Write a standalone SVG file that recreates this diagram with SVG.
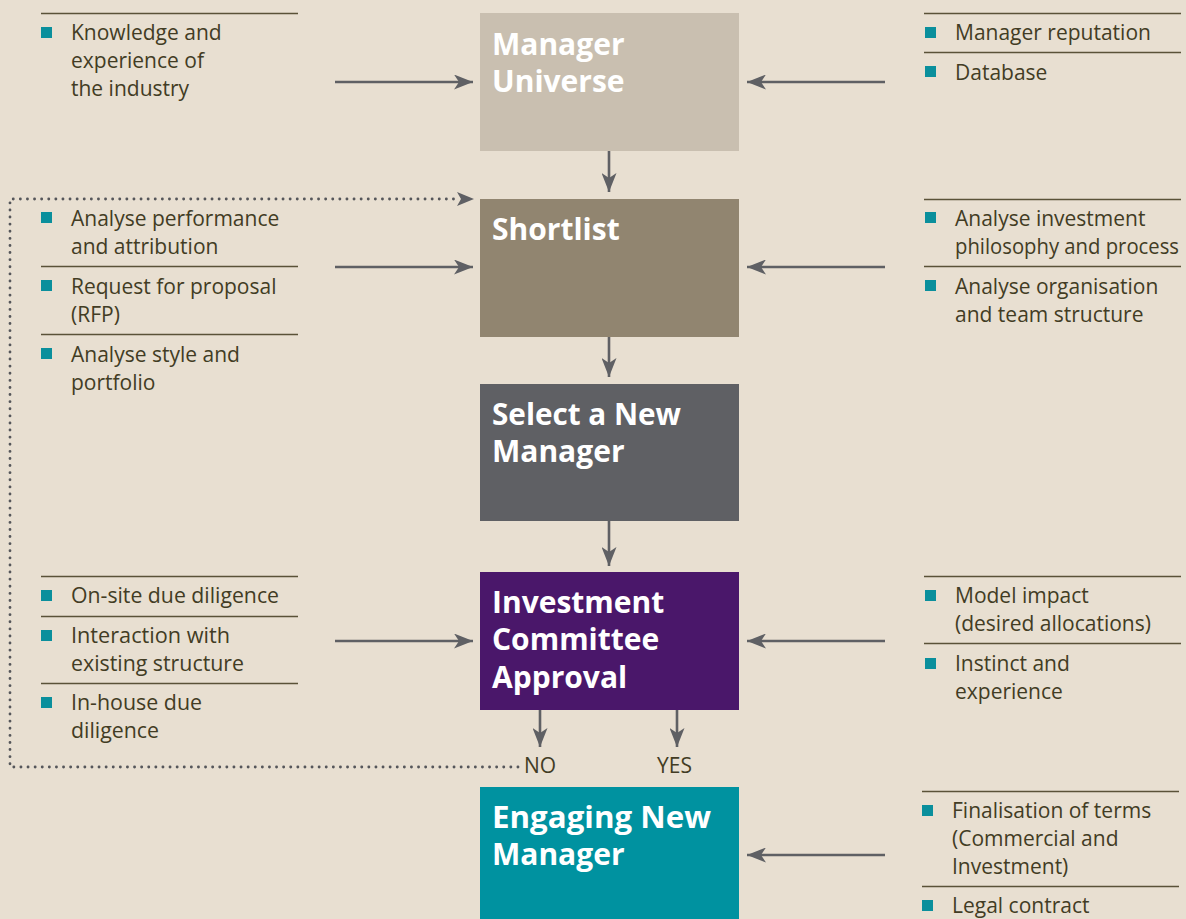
<svg xmlns="http://www.w3.org/2000/svg" width="1186" height="919" viewBox="0 0 1186 919">
<defs>
<marker id="ah" viewBox="0 0 19 15" refX="19" refY="7.5" markerWidth="19" markerHeight="15" markerUnits="userSpaceOnUse" orient="auto">
<path d="M0,0 L19,7.5 L0,15 L5,7.5 Z" fill="#5f6064"/>
</marker>
<style>
.bg{fill:#e8dfd1}
.t{font-family:"Open Sans","Liberation Sans",sans-serif;font-size:21px;fill:#423c24}
.h{font-family:"Open Sans","Liberation Sans",sans-serif;font-size:30px;font-weight:bold;fill:#ffffff}
.sep{stroke:#5a5238;stroke-width:1.3}
.bul{fill:#0a8f9c}
.ar{stroke:#5f6064;stroke-width:2.6;fill:none;marker-end:url(#ah)}
.dot{stroke:#55565a;stroke-width:2.8;fill:none;stroke-dasharray:0.1 7;stroke-linecap:round}
</style>
</defs>
<rect class="bg" x="0" y="0" width="1186" height="919"/>

<g id="connectors">
<line class="ar" x1="335" y1="82" x2="473" y2="82"/>
<line class="ar" x1="885" y1="82" x2="747" y2="82"/>
<line class="ar" x1="609" y1="151" x2="609" y2="192"/>
<line class="ar" x1="335" y1="267" x2="473" y2="267"/>
<line class="ar" x1="885" y1="267" x2="747" y2="267"/>
<line class="ar" x1="609" y1="337" x2="609" y2="377"/>
<line class="ar" x1="609" y1="521" x2="609" y2="566"/>
<line class="ar" x1="335" y1="641" x2="473" y2="641"/>
<line class="ar" x1="885" y1="641" x2="747" y2="641"/>
<line class="ar" x1="540" y1="710" x2="540" y2="747"/>
<line class="ar" x1="677" y1="710" x2="677" y2="747"/>
<line class="ar" x1="885" y1="855" x2="747" y2="855"/>
<path class="dot" d="M518,767 L10,767 L10,199 L458,199"/>
<path d="M457,192 L474,199 L457,206 L461,199 Z" fill="#5f6064"/>
<text class="t" x="524" y="773">NO</text>
<text class="t" x="657" y="773">YES</text>
</g>

<g id="manager-universe">
<rect x="480" y="13" width="259" height="138" fill="#c9bfb0"/>
<text class="h" x="492" y="55">Manager</text>
<text class="h" x="492" y="92">Universe</text>
</g>
<g id="shortlist">
<rect x="480" y="199" width="259" height="138" fill="#918570"/>
<text class="h" x="492" y="240">Shortlist</text>
</g>
<g id="select-new-manager">
<rect x="480" y="384" width="259" height="137" fill="#5f6064"/>
<text class="h" x="492" y="425" textLength="189" lengthAdjust="spacingAndGlyphs">Select a New</text>
<text class="h" x="492" y="462">Manager</text>
</g>
<g id="investment-committee">
<rect x="480" y="572" width="259" height="138" fill="#4a176a"/>
<text class="h" x="492" y="613">Investment</text>
<text class="h" x="492" y="650">Committee</text>
<text class="h" x="492" y="688">Approval</text>
</g>
<g id="engaging-new-manager">
<rect x="480" y="787" width="259" height="140" fill="#0092a0"/>
<text class="h" x="492" y="828" textLength="219" lengthAdjust="spacingAndGlyphs">Engaging New</text>
<text class="h" x="492" y="865">Manager</text>
</g>

<g id="universe-left">
<line class="sep" x1="41" y1="13.5" x2="298" y2="13.5"/>
<rect class="bul" x="41" y="27" width="11" height="11"/>
<text class="t" x="71" y="40">Knowledge and</text>
<text class="t" x="71" y="68">experience of</text>
<text class="t" x="71" y="96">the industry</text>
</g>
<g id="universe-right">
<line class="sep" x1="924" y1="13.5" x2="1181" y2="13.5"/>
<rect class="bul" x="925" y="27" width="11" height="11"/>
<text class="t" x="955" y="40">Manager reputation</text>
<line class="sep" x1="924" y1="52.5" x2="1181" y2="52.5"/>
<rect class="bul" x="925" y="66" width="11" height="11"/>
<text class="t" x="955" y="80">Database</text>
</g>

<g id="shortlist-left">
<rect class="bul" x="41" y="212" width="11" height="11"/>
<text class="t" x="71" y="226">Analyse performance</text>
<text class="t" x="71" y="254">and attribution</text>
<line class="sep" x1="41" y1="266.5" x2="298" y2="266.5"/>
<rect class="bul" x="41" y="280" width="11" height="11"/>
<text class="t" x="71" y="294">Request for proposal</text>
<text class="t" x="71" y="322">(RFP)</text>
<line class="sep" x1="41" y1="334.5" x2="298" y2="334.5"/>
<rect class="bul" x="41" y="348" width="11" height="11"/>
<text class="t" x="71" y="362">Analyse style and</text>
<text class="t" x="71" y="390">portfolio</text>
</g>
<g id="shortlist-right">
<line class="sep" x1="924" y1="199.5" x2="1181" y2="199.5"/>
<rect class="bul" x="925" y="212" width="11" height="11"/>
<text class="t" x="955" y="226">Analyse investment</text>
<text class="t" x="955" y="254" textLength="224" lengthAdjust="spacingAndGlyphs">philosophy and process</text>
<line class="sep" x1="924" y1="266.5" x2="1181" y2="266.5"/>
<rect class="bul" x="925" y="280" width="11" height="11"/>
<text class="t" x="955" y="294">Analyse organisation</text>
<text class="t" x="955" y="322">and team structure</text>
</g>

<g id="committee-left">
<line class="sep" x1="41" y1="576.5" x2="298" y2="576.5"/>
<rect class="bul" x="41" y="590" width="11" height="11"/>
<text class="t" x="71" y="603" textLength="208" lengthAdjust="spacingAndGlyphs">On-site due diligence</text>
<line class="sep" x1="41" y1="616.5" x2="298" y2="616.5"/>
<rect class="bul" x="41" y="630" width="11" height="11"/>
<text class="t" x="71" y="643" textLength="159" lengthAdjust="spacingAndGlyphs">Interaction with</text>
<text class="t" x="71" y="671" textLength="173" lengthAdjust="spacingAndGlyphs">existing structure</text>
<line class="sep" x1="41" y1="683.5" x2="298" y2="683.5"/>
<rect class="bul" x="41" y="697" width="11" height="11"/>
<text class="t" x="71" y="710" textLength="131" lengthAdjust="spacingAndGlyphs">In-house due</text>
<text class="t" x="71" y="738" textLength="88" lengthAdjust="spacingAndGlyphs">diligence</text>
</g>
<g id="committee-right">
<line class="sep" x1="924" y1="576.5" x2="1181" y2="576.5"/>
<rect class="bul" x="925" y="590" width="11" height="11"/>
<text class="t" x="955" y="603">Model impact</text>
<text class="t" x="955" y="631">(desired allocations)</text>
<line class="sep" x1="924" y1="643.5" x2="1181" y2="643.5"/>
<rect class="bul" x="925" y="658" width="11" height="11"/>
<text class="t" x="955" y="671">Instinct and</text>
<text class="t" x="955" y="699">experience</text>
</g>

<g id="engaging-right">
<line class="sep" x1="922" y1="791.5" x2="1179" y2="791.5"/>
<rect class="bul" x="922" y="805" width="11" height="11"/>
<text class="t" x="952" y="818">Finalisation of terms</text>
<text class="t" x="952" y="846">(Commercial and</text>
<text class="t" x="952" y="874">Investment)</text>
<line class="sep" x1="922" y1="886.5" x2="1179" y2="886.5"/>
<rect class="bul" x="922" y="900" width="11" height="11"/>
<text class="t" x="952" y="913">Legal contract</text>
</g>
</svg>
